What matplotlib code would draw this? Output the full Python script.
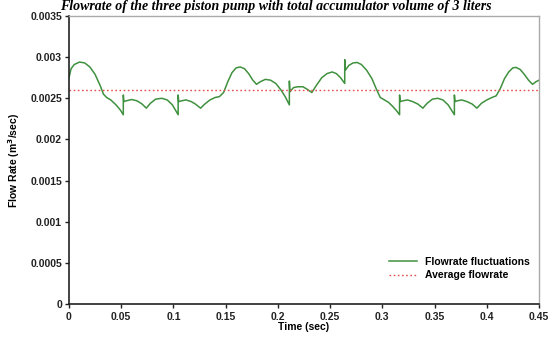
import matplotlib
matplotlib.use("Agg")
import matplotlib.pyplot as plt

plt.rcParams['font.family'] = ['Liberation Sans', 'DejaVu Sans']

# Flowrate fluctuation trace (time in s, flow in 1e-3 m^3/s)
time_s = [0, 0.002, 0.005, 0.010, 0.015, 0.020, 0.025, 0.030, 0.033, 0.036, 0.040, 0.045, 0.049, 0.052,
          0.052, 0.0525, 0.055, 0.060, 0.065, 0.070, 0.074, 0.078, 0.083, 0.089, 0.094, 0.099, 0.1045,
          0.1045, 0.105, 0.108, 0.112, 0.117, 0.121, 0.126, 0.130, 0.135, 0.140, 0.144, 0.148, 0.152,
          0.156, 0.160, 0.164, 0.168, 0.172, 0.176, 0.1795, 0.183, 0.188, 0.193, 0.198, 0.203, 0.207, 0.211,
          0.211, 0.2115, 0.215, 0.219, 0.224, 0.228, 0.2325, 0.237, 0.242, 0.247, 0.252, 0.256, 0.260, 0.264,
          0.264, 0.2645, 0.268, 0.272, 0.276, 0.280, 0.285, 0.290, 0.294, 0.298, 0.302, 0.306, 0.310, 0.3135, 0.3165,
          0.3165, 0.317, 0.320, 0.324, 0.329, 0.334, 0.3388, 0.343, 0.348, 0.353, 0.358, 0.363, 0.369,
          0.369, 0.3695, 0.372, 0.376, 0.381, 0.386, 0.3905, 0.395, 0.400, 0.405, 0.409, 0.413, 0.417,
          0.421, 0.425, 0.428, 0.432, 0.436, 0.440, 0.4438, 0.447, 0.450]
flow_e3 = [2.75, 2.86, 2.91, 2.94, 2.93, 2.88, 2.79, 2.65, 2.55, 2.51, 2.48, 2.42, 2.36, 2.30,
           2.54, 2.46, 2.47, 2.485, 2.47, 2.43, 2.38, 2.44, 2.49, 2.50, 2.48, 2.42, 2.30,
           2.54, 2.46, 2.47, 2.48, 2.46, 2.43, 2.38, 2.43, 2.48, 2.51, 2.52, 2.57, 2.70,
           2.81, 2.87, 2.88, 2.86, 2.80, 2.72, 2.67, 2.70, 2.73, 2.72, 2.68, 2.60, 2.52, 2.42,
           2.71, 2.58, 2.63, 2.64, 2.64, 2.61, 2.57, 2.66, 2.75, 2.80, 2.82, 2.80, 2.75, 2.68,
           2.97, 2.84, 2.90, 2.93, 2.935, 2.91, 2.84, 2.74, 2.62, 2.51, 2.48, 2.45, 2.40, 2.35, 2.30,
           2.54, 2.46, 2.47, 2.48, 2.46, 2.43, 2.38, 2.44, 2.49, 2.50, 2.48, 2.42, 2.30,
           2.54, 2.46, 2.47, 2.48, 2.46, 2.43, 2.38, 2.44, 2.48, 2.51, 2.53, 2.62, 2.74,
           2.82, 2.87, 2.875, 2.85, 2.79, 2.72, 2.67, 2.70, 2.72]
avg_flow = 0.0026

x_ticks = [0, 0.05, 0.1, 0.15, 0.2, 0.25, 0.3, 0.35, 0.4, 0.45]
x_labels = ['0', '0.05', '0.1', '0.15', '0.2', '0.25', '0.3', '0.35', '0.4', '0.45']
y_ticks = [0, 0.0005, 0.001, 0.0015, 0.002, 0.0025, 0.003, 0.0035]
y_labels = ['0', '0.0005', '0.001', '0.0015', '0.002', '0.0025', '0.003', '0.0035']

flow = [v * 1e-3 for v in flow_e3]

fig = plt.figure(figsize=(5.52, 3.42), dpi=100)
ax = fig.add_axes([69/552, 1 - 304/342, 470/552, 288/342])

ax.plot(time_s, flow, color='#3f913f', lw=1.1, label='Flowrate fluctuations')
ax.axhline(avg_flow, color='#e8504f', lw=1.0, ls=(0, (1.2, 1.8)), label='Average flowrate')

ax.set_xlim(0, 0.45)
ax.set_ylim(0, 0.0035)
ax.set_xticks(x_ticks)
ax.set_xticklabels(x_labels)
ax.set_yticks(y_ticks)
ax.set_yticklabels(y_labels)
for lab in ax.get_xticklabels() + ax.get_yticklabels():
    lab.set_fontweight('bold')
    lab.set_fontsize(7.5)
ax.tick_params(direction='out', length=3, width=1, pad=2, colors='#222222')
ax.tick_params(axis='x', pad=3)

for s in ['left', 'bottom']:
    ax.spines[s].set_color('#222222')
    ax.spines[s].set_linewidth(1.2)
for s in ['top', 'right']:
    ax.spines[s].set_color('#aaaaaa')
    ax.spines[s].set_linewidth(1.0)

ax.set_xlabel('Time (sec)', fontsize=7.5, fontweight='bold', labelpad=0)
ax.set_ylabel('Flow Rate (m$^\\mathbf{3}$/sec)', fontsize=7.5, fontweight='bold', labelpad=6)

leg = ax.legend(loc='lower right', bbox_to_anchor=(1.0, 0.05), frameon=False,
                prop={'weight': 'bold', 'size': 7.5}, handlelength=2.6, labelspacing=0.3)

fig.text(0.5, 1 - 10/342, 'Flowrate of the three piston pump with total accumulator volume of 3 liters',
         ha='center', va='baseline', fontsize=10, fontweight='bold', fontstyle='italic',
         family=['Liberation Serif', 'DejaVu Serif'])

fig.savefig('out.png', dpi=100)
